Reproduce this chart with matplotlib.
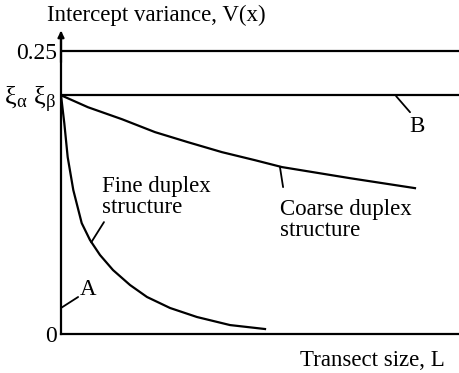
import matplotlib
matplotlib.use("Agg")
import matplotlib.pyplot as plt

plt.rcParams["font.family"] = ["Liberation Serif", "DejaVu Serif"]
plt.rcParams["mathtext.fontset"] = "stix"

# transect size L (arbitrary units) and intercept variance V
FINE_L = [0.0, 0.083, 0.168, 0.309, 0.520, 0.729, 0.980, 1.307, 1.734, 2.161,
          2.739, 3.417, 4.246, 5.126]
FINE_V = [0.211, 0.1863, 0.1563, 0.1272, 0.0980, 0.0830, 0.0698, 0.0565, 0.0433,
          0.0327, 0.0230, 0.0150, 0.0079, 0.0044]
COARSE_L = [0.0, 0.678, 1.533, 2.362, 3.191, 4.045, 4.874, 5.553, 7.261, 8.894]
COARSE_V = [0.211, 0.2004, 0.1898, 0.1784, 0.1695, 0.1607, 0.1536, 0.1475, 0.1377,
            0.1289]
V_MAX = 0.25        # upper bound of the variance
V_XI = 0.211        # xi_alpha * xi_beta level (curve B)
TICK_VALUES = [0, V_XI, V_MAX]
TICK_LABELS = ["0", r"ξ$_{\mathregular{α}}$ ξ$_{\mathregular{β}}$", "0.25"]

fig = plt.figure(figsize=(4.59, 3.73), dpi=100)
ax = fig.add_axes([61 / 459, 39 / 373, 1 - 61 / 459, 301 / 373])
ax.set_xlim(0, 10.0)
ax.set_ylim(0, 0.266)

lw = 1.6
ax.axhline(V_MAX, color="black", lw=lw)
ax.axhline(V_XI, color="black", lw=lw)
ax.plot(FINE_L, FINE_V, color="black", lw=lw, solid_joinstyle="round")
ax.plot(COARSE_L, COARSE_V, color="black", lw=lw, solid_joinstyle="round")

for side in ("top", "right"):
    ax.spines[side].set_visible(False)
for side in ("left", "bottom"):
    ax.spines[side].set_linewidth(lw)
ax.set_xticks([])
ax.set_yticks(TICK_VALUES)
ax.set_yticklabels(TICK_LABELS, fontsize=17)
ax.get_yticklabels()[1].set_fontsize(19)
ax.tick_params(axis="y", length=0, pad=3)

# arrow head on the V axis
ax.annotate("", xy=(0, 0.268), xytext=(0, 0.24),
            arrowprops=dict(arrowstyle="-|>", lw=lw, color="black",
                            mutation_scale=9, shrinkA=0, shrinkB=0),
            annotation_clip=False)

fs = 16.5
leader = dict(arrowstyle="-", lw=1.3, color="black", shrinkA=0, shrinkB=0)
ax.annotate("", xy=(0.0, 0.023), xytext=(0.43, 0.0327), arrowprops=leader, annotation_clip=False)
ax.text(0.68, 0.039, "A", fontsize=fs, ha="center", va="center")
ax.annotate("", xy=(0.76, 0.081), xytext=(1.08, 0.0989), arrowprops=leader)
ax.text(1.03, 0.121, "Fine duplex\nstructure", fontsize=fs, ha="left", va="center",
        linespacing=1.0)
ax.annotate("", xy=(5.50, 0.1478), xytext=(5.58, 0.1298), arrowprops=leader)
ax.text(5.50, 0.101, "Coarse duplex\nstructure", fontsize=fs, ha="left", va="center",
        linespacing=1.0)
ax.annotate("", xy=(8.42, 0.2102), xytext=(8.77, 0.196), arrowprops=leader)
ax.text(8.94, 0.183, "B", fontsize=fs, ha="center", va="center")

fig.text(47 / 459, 1 - 15 / 373, "Intercept variance, V(x)", fontsize=fs,
         ha="left", va="center")
fig.text(445 / 459, 1 - 360 / 373, "Transect size, L", fontsize=fs,
         ha="right", va="center")

fig.savefig("out.png", dpi=100)
